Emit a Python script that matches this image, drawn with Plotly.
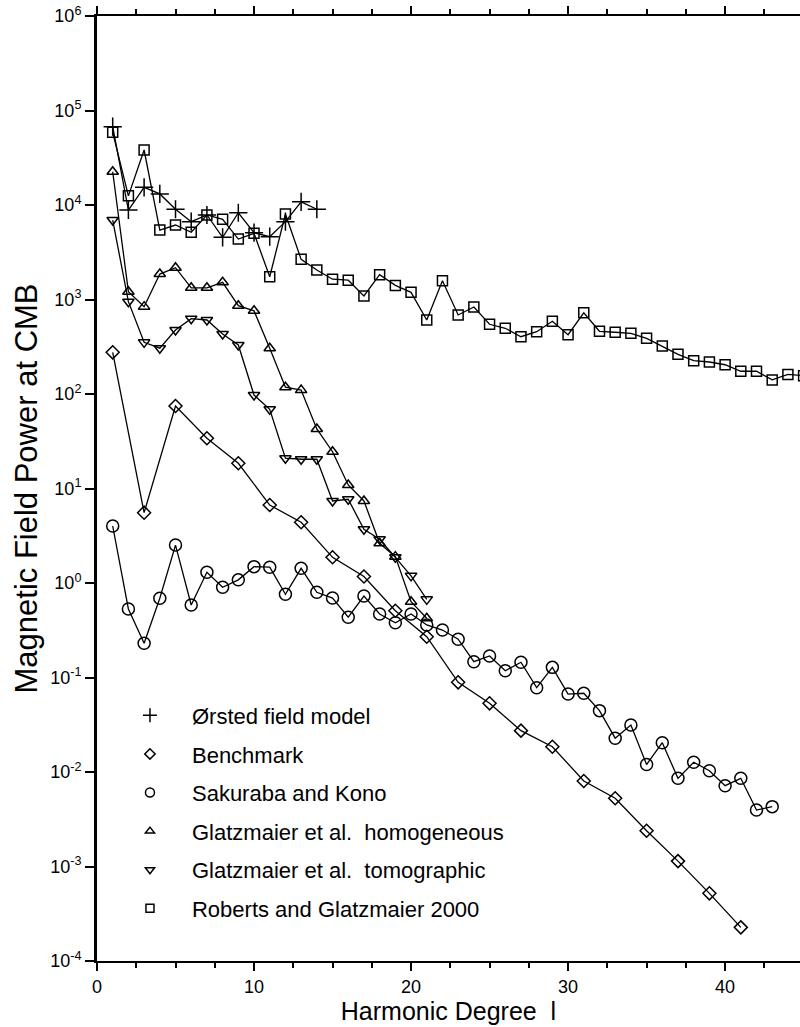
import plotly.graph_objects as go

# Harmonic degree arrays
deg_orsted = list(range(1, 15))
power_orsted = [67400, 8850, 15400, 13100, 9020, 6660, 7840, 4550, 8280, 5090, 4620, 6660, 10800, 9020]

deg_bench = list(range(1, 42, 2))
power_bench = [276, 5.55, 74.6, 34.0, 18.5, 6.68, 4.39, 1.87, 1.17, 0.509, 0.270, 0.0889, 0.0533,
               0.0274, 0.0185, 0.00804, 0.00527, 0.00239, 0.00114, 0.000520, 0.000227]

deg_sk = list(range(1, 44))
power_sk = [4.01, 0.531, 0.230, 0.689, 2.52, 0.585, 1.30, 0.900, 1.08, 1.49, 1.47, 0.759, 1.43, 0.798,
            0.693, 0.434, 0.728, 0.470, 0.380, 0.470, 0.360, 0.318, 0.254, 0.147, 0.169, 0.118, 0.145,
            0.0780, 0.128, 0.0668, 0.0681, 0.0446, 0.0228, 0.0314, 0.0120, 0.0204, 0.00857, 0.0127,
            0.0103, 0.00716, 0.00857, 0.00396, 0.00430]

deg_homo = list(range(1, 22))
power_homo = [22500, 1210, 840, 1860, 2170, 1330, 1330, 1520, 860, 760, 305, 118, 110, 42.7, 24.5,
              10.9, 7.38, 2.63, 1.90, 0.634, 0.423]

deg_tomo = list(range(1, 22))
power_tomo = [6930, 948, 352, 305, 475, 627, 607, 431, 330, 97.5, 68.9, 20.9, 20.4, 20.4, 7.38,
              7.69, 3.70, 2.90, 1.87, 1.19, 0.671]

deg_rg = list(range(1, 46))
power_rg = [58700, 12500, 38200, 5430, 6140, 5140, 7840, 7060, 4360, 5010, 1740, 8030, 2660, 2050,
            1640, 1600, 1090, 1830, 1410, 1190, 607, 1580, 686, 834, 547, 496, 404, 456, 588, 424,
            724, 461, 450, 439, 388, 322, 263, 225, 218, 204, 174, 174, 141, 161, 156]

names = ["Ørsted field model", "Benchmark", "Sakuraba and Kono",
         "Glatzmaier et al.  homogeneous", "Glatzmaier et al.  tomographic",
         "Roberts and Glatzmaier 2000"]

y_tickvals = [1e-4, 1e-3, 1e-2, 1e-1, 1e0, 1e1, 1e2, 1e3, 1e4, 1e5, 1e6]
y_ticktext = ["10<sup>-4</sup>", "10<sup>-3</sup>", "10<sup>-2</sup>", "10<sup>-1</sup>",
              "10<sup>0</sup>", "10<sup>1</sup>", "10<sup>2</sup>", "10<sup>3</sup>",
              "10<sup>4</sup>", "10<sup>5</sup>", "10<sup>6</sup>"]

series = [
    (deg_orsted, power_orsted, "cross-thin-open", 13),
    (deg_bench, power_bench, "diamond-open", 10),
    (deg_sk, power_sk, "circle-open", 12),
    (deg_homo, power_homo, "triangle-up-open", 10),
    (deg_tomo, power_tomo, "triangle-down-open", 10),
    (deg_rg, power_rg, "square-open", 10),
]
legend_sizes = [10, 8, 9, 8, 8, 8]

fig = go.Figure()
for (x, y, sym, sz) in series:
    fig.add_trace(go.Scatter(
        x=x, y=y, mode="lines+markers", showlegend=False,
        line=dict(color="black", width=1.3),
        marker=dict(symbol=sym, size=sz, color="black", line=dict(color="black", width=1.5)),
        cliponaxis=True,
    ))

for i, ((x, y, sym, sz), name) in enumerate(zip(series, names)):
    fig.add_trace(go.Scatter(
        x=[None], y=[None], mode="markers", name=name, legendgroup=str(i),
        marker=dict(symbol=sym, size=legend_sizes[i], color="black",
                    line=dict(color="black", width=1.5)),
    ))

font_family = "Liberation Sans, Arial, Helvetica, sans-serif"

fig.update_layout(
    width=800, height=1027,
    margin=dict(l=97, r=0, t=16, b=66, autoexpand=False),
    paper_bgcolor="white", plot_bgcolor="white",
    font=dict(family=font_family, color="black", size=18),
    showlegend=True,
    legend=dict(
        x=0.0156, y=0.282, xanchor="left", yanchor="top",
        bgcolor="rgba(0,0,0,0)", borderwidth=0,
        font=dict(size=22, family=font_family, color="black"),
        tracegroupgap=7, itemsizing="trace", itemwidth=74,
    ),
    xaxis=dict(
        range=[0, 44.77], showgrid=False, zeroline=False, automargin=False,
        showline=True, linecolor="black", linewidth=2, mirror="ticks",
        ticks="outside", tickcolor="black", ticklen=8, tickwidth=1.5,
        tickvals=[0, 10, 20, 30, 40],
        minor=dict(dtick=2.5, tick0=0, ticks="outside", ticklen=5, tickwidth=1.5, tickcolor="black"),
        tickfont=dict(size=18),
        title=dict(text="Harmonic Degree  l", font=dict(size=25), standoff=0),
    ),
    yaxis=dict(
        type="log", range=[-4, 6], showgrid=False, zeroline=False, automargin=False,
        showline=True, linecolor="black", linewidth=3, mirror=False,
        ticks="outside", tickcolor="black", ticklen=9, tickwidth=1.5,
        tickvals=y_tickvals, ticktext=y_ticktext,
        tickfont=dict(size=18),
        title=dict(text="Magnetic Field Power at CMB", font=dict(size=31), standoff=4),
    ),
)

fig.write_html("out.html",
               config={"displayModeBar": False},
               post_script="document.body.style.margin='0px';document.body.style.overflow='hidden';")
